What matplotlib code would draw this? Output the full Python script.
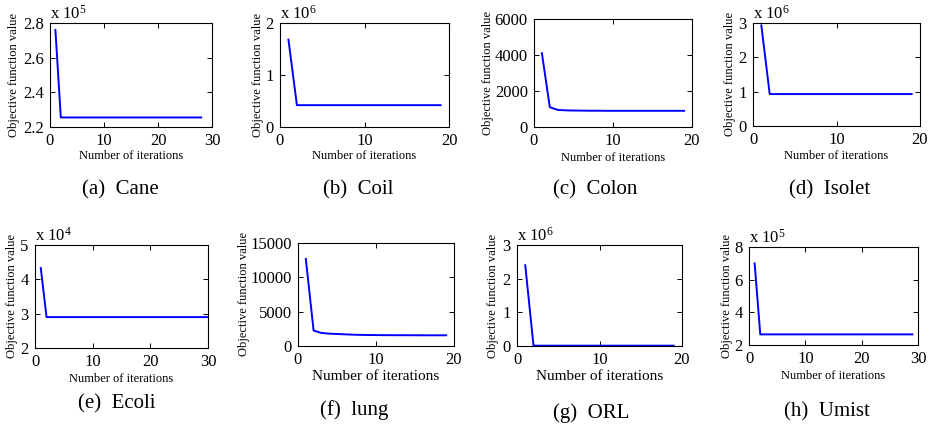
import matplotlib
matplotlib.use("Agg")
import matplotlib.pyplot as plt
from matplotlib.ticker import FuncFormatter

plt.rcParams['font.family'] = ['Liberation Serif', 'DejaVu Serif']
plt.rcParams['mathtext.fontset'] = 'custom'
plt.rcParams['mathtext.rm'] = 'Liberation Serif'
plt.rcParams['mathtext.default'] = 'regular'

W, H = 931, 426

# data
names = ["(a)  Cane", "(b)  Coil", "(c)  Colon", "(d)  Isolet",
         "(e)  Ecoli", "(f)  lung", "(g)  ORL", "(h)  Umist"]
cane = [2.76e5] + [2.255e5] * 27
coil = [1.68e6] + [0.42e6] * 18
colon = [4100, 1100, 950, 925, 915, 910, 905, 905, 900, 900,
         900, 900, 900, 900, 900, 900, 900, 900, 900]
isolet = [2.93e6] + [0.93e6] * 18
ecoli = [4.33e4] + [2.9e4] * 29
lung = [12700, 2250, 1900, 1800, 1750, 1700, 1650, 1620, 1600, 1590,
        1580, 1575, 1570, 1570, 1565, 1560, 1560, 1560, 1560]
orl = [2.4e6] + [0.01e6] * 18
umist = [7.0e5] + [2.65e5] * 28
series = [cane, coil, colon, isolet, ecoli, lung, orl, umist]

ylims = [(2.2e5, 2.8e5), (0, 2e6), (0, 6000), (0, 3e6),
         (2e4, 5e4), (0, 15000), (0, 3e6), (2e5, 8e5)]
yticks = [[2.2e5, 2.4e5, 2.6e5, 2.8e5], [0, 1e6, 2e6], [0, 2000, 4000, 6000],
          [0, 1e6, 2e6, 3e6], [2e4, 3e4, 4e4, 5e4], [0, 5000, 10000, 15000],
          [0, 1e6, 2e6, 3e6], [2e5, 4e5, 6e5, 8e5]]
xmax = [30, 20, 20, 20, 30, 20, 20, 30]
exps = [5, 6, 0, 6, 4, 0, 6, 5]

# layout in pixels: axes box (left, top, right, bottom), ylabel x, xlabel y, caption (x, y)
boxes = [(50, 23, 212, 127), (280, 23, 449, 127), (534, 19, 692, 127), (753, 23, 920, 126),
         (35, 245, 208, 348), (298, 243, 454, 346), (517, 245, 682, 346), (749, 247, 918, 345)]
ylab_x = [14, 258, 488, 730, 12, 244, 493, 727]
xlab_y = [156, 156, 158, 156, 379, 376, 376, 376]
caps = [(120, 190), (358, 190), (595, 190), (830, 190),
        (117, 404), (354, 410), (591, 413), (827, 412)]
xlab_size = [9, 9, 9, 9, 9, 11, 11, 9]

fig = plt.figure(figsize=(W / 100, H / 100), dpi=100)

for i in range(8):
    l, t, r, b = boxes[i]
    ax = fig.add_axes([l / W, 1 - b / H, (r - l) / W, (b - t) / H])
    y = series[i]
    ax.plot(range(1, len(y) + 1), y, color=(0, 0, 1), lw=1.4)
    ax.set_xlim(0, xmax[i])
    ax.set_ylim(*ylims[i])
    ax.set_yticks(yticks[i])
    ax.set_xticks(range(0, xmax[i] + 1, 10))
    e = exps[i]
    ax.yaxis.set_major_formatter(FuncFormatter(lambda v, p, e=e: "%g" % round(v / 10 ** e, 6)))
    ax.tick_params(direction='in', top=True, right=True, length=3.5, width=0.7,
                   labelsize=12)
    ax.tick_params(axis='y', pad=4.5)
    ax.tick_params(axis='x', pad=4)
    for s in ax.spines.values():
        s.set_linewidth(0.8)
    if e:
        ax.text(0.0, 1.0, "x 10$^{%d}$" % e, transform=ax.transAxes,
                ha='left', va='bottom', fontsize=12)
    ax.set_ylabel("Objective function value", fontsize=9)
    ax.yaxis.set_label_coords((ylab_x[i] - l) / (r - l), 0.5)
    ax.set_xlabel("Number of iterations", fontsize=xlab_size[i])
    ax.xaxis.set_label_coords(0.5, -(xlab_y[i] - b) / (b - t), transform=ax.transAxes)
    ax.xaxis.label.set_va('center')
    ax.yaxis.label.set_va('center')
    cx, cy = caps[i]
    fig.text(cx / W, 1 - cy / H, names[i], ha='center', va='center', fontsize=15)

fig.savefig("out.png", dpi=100)
